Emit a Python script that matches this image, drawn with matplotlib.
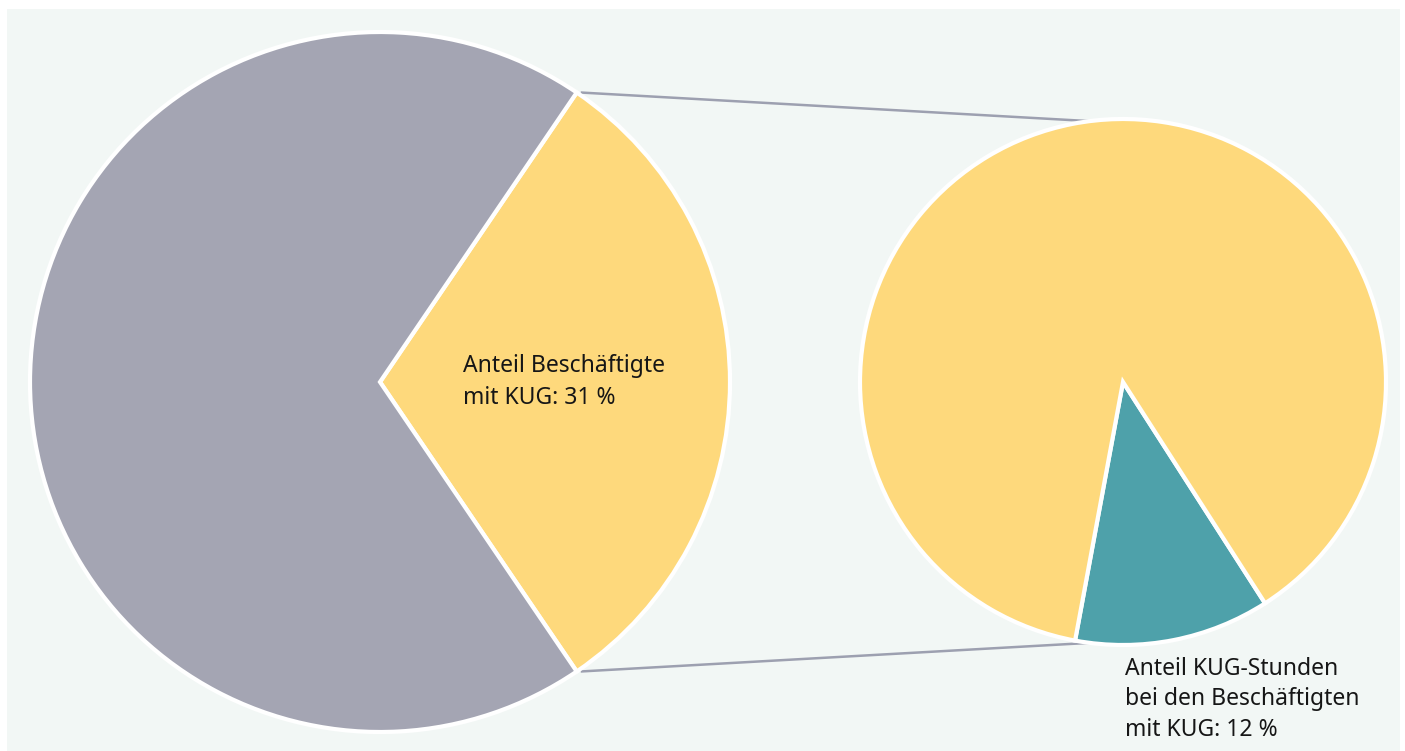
import matplotlib
matplotlib.use("Agg")
import matplotlib.pyplot as plt
import numpy as np

plt.rcParams['font.family'] = ['Noto Sans', 'DejaVu Sans']

# shares (percent)
main_labels = ['Beschäftigte mit KUG', 'übrige Beschäftigte']
main_values = [31, 69]
detail_labels = ['KUG-Stunden', 'übrige Stunden']
detail_values = [12, 88]

main_text = 'Anteil Beschäftigte\nmit KUG: 31 %'
detail_text = 'Anteil KUG-Stunden\nbei den Beschäftigten\nmit KUG: 12 %'

YELLOW = '#fed97c'
GREY = '#a4a5b3'
TEAL = '#4ea1aa'
BG = '#f2f7f5'
LINE = '#9da0b0'

W, H = 1405, 751
fig = plt.figure(figsize=(W / 100, H / 100), dpi=100)
fig.patch.set_facecolor('white')

# light panel behind the charts
panel = fig.add_axes([7 / W, 0, 1 - 12 / W, 1 - 9 / H])
panel.set_facecolor(BG)
panel.set_xticks([])
panel.set_yticks([])
for s in panel.spines.values():
    s.set_visible(False)

ax = fig.add_axes([0, 0, 1, 1])
ax.set_xlim(0, W)
ax.set_ylim(0, H)
ax.set_aspect('equal')
ax.axis('off')
ax.patch.set_alpha(0)

c1, r1 = (380, 369), 350
c2, r2 = (1123, 369), 263

half = main_values[0] / 100 * 360 / 2
wedge_props = dict(edgecolor='white', linewidth=3)

ax.pie(main_values, colors=[YELLOW, GREY], startangle=-half,
       center=c1, radius=r1, wedgeprops=wedge_props, frame=True)

start2 = -100.5
ax.pie(detail_values, colors=[TEAL, YELLOW], startangle=start2,
       center=c2, radius=r2, wedgeprops=wedge_props, frame=True)

ax.set_xlim(0, W)
ax.set_ylim(0, H)
ax.axis('off')

# connector lines from the split wedge to the detail pie
for sign in (1, -1):
    a1 = np.deg2rad(sign * half)
    a2 = np.deg2rad(sign * 97.3)
    x0, y0 = c1[0] + r1 * np.cos(a1), c1[1] + r1 * np.sin(a1)
    x1, y1 = c2[0] + r2 * np.cos(a2), c2[1] + r2 * np.sin(a2)
    ax.plot([x0 + 4, x1], [y0, y1], color=LINE, lw=1.8, zorder=0.5,
            solid_capstyle='butt')

ax.text(463, H - 354, main_text, fontsize=16.5, color='#161616',
        va='top', ha='left', linespacing=1.42)
ax.text(1125, H - 657, detail_text, fontsize=16.5, color='#161616',
        va='top', ha='left', linespacing=1.35)

fig.savefig('out.png', dpi=100, facecolor=fig.get_facecolor())
